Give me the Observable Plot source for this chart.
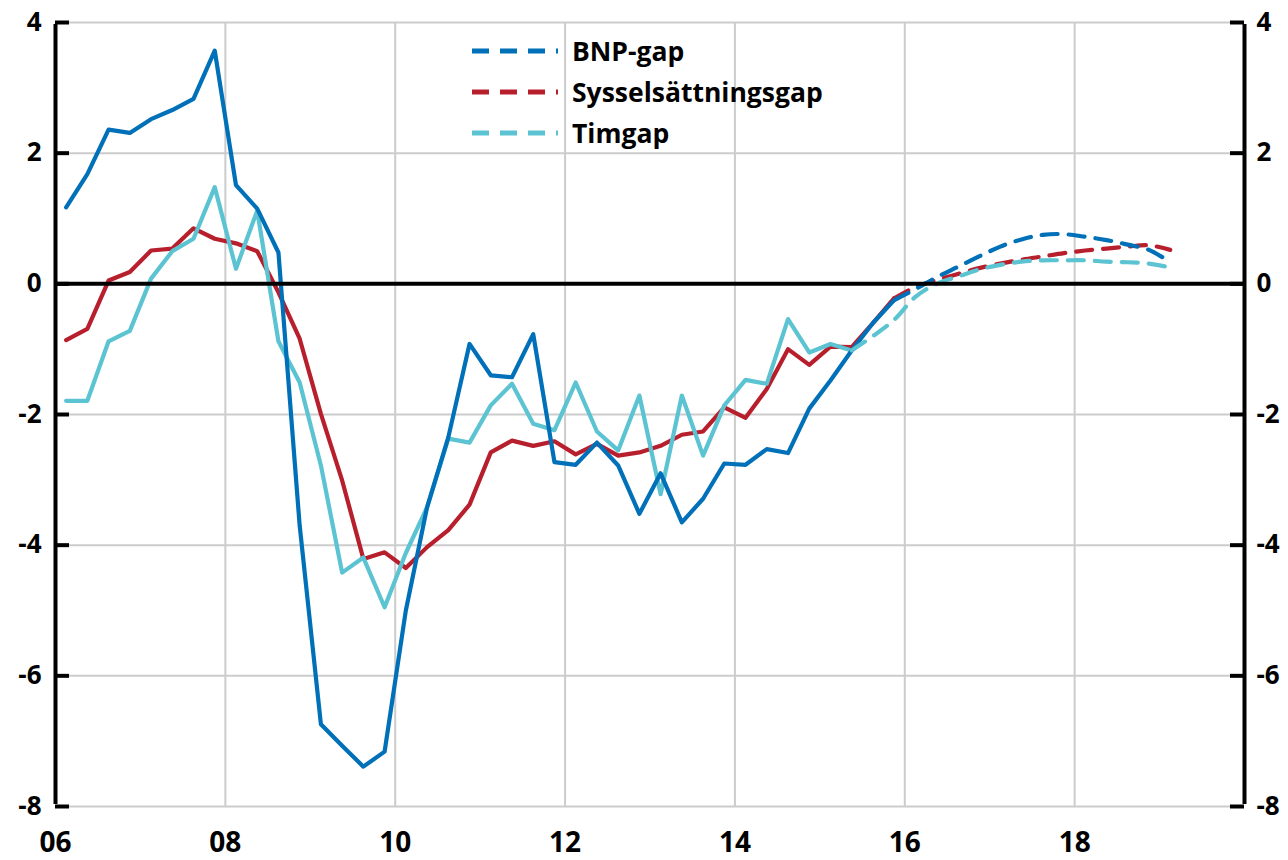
<!DOCTYPE html>
<html>
<head>
<meta charset="utf-8">
<script src="https://cdn.jsdelivr.net/npm/d3@7"></script>
<script src="https://cdn.jsdelivr.net/npm/@observablehq/plot@0.6"></script>
<style>
  html, body { margin: 0; padding: 0; background: #fff; }
  #chart { position: relative; width: 1288px; height: 860px; }
  #chart svg text { font-family: "Open Sans", Lato, sans-serif; font-weight: bold; fill: #000; }
  #legend { position: absolute; left: 0; top: 0; pointer-events: none; }
</style>
</head>
<body>
<div id="chart"></div>
<script>
// ---- Data (quarterly, percent) ----
const seriesNames = ["BNP-gap", "Sysselsättningsgap", "Timgap"];
const seriesColors = ["#0070b8", "#b81f2d", "#5bc3d1"];

// Observed: BNP-gap and Sysselsättningsgap 2006Q1–2015Q4, Timgap 2006Q1–2015Q2
const bnpObs = [1.17, 1.68, 2.36, 2.31, 2.52, 2.66, 2.83, 3.57,
  1.51, 1.15, 0.48, -3.7, -6.74, -7.07, -7.39, -7.16,
  -5.0, -3.42, -2.35, -0.92, -1.40, -1.43, -0.77, -2.73,
  -2.77, -2.43, -2.78, -3.52, -2.90, -3.65, -3.29, -2.75,
  -2.77, -2.53, -2.59, -1.91, -1.48, -1.02, -0.60, -0.25];
const syssObs = [-0.86, -0.69, 0.05, 0.18, 0.51, 0.54, 0.85, 0.69,
  0.62, 0.50, -0.13, -0.84, -1.99, -3.01, -4.21, -4.11,
  -4.35, -4.03, -3.77, -3.38, -2.58, -2.40, -2.48, -2.41,
  -2.61, -2.45, -2.63, -2.58, -2.48, -2.31, -2.26, -1.89,
  -2.05, -1.61, -1.00, -1.24, -0.96, -0.97, -0.60, -0.22];
const timObs = [-1.79, -1.79, -0.88, -0.72, 0.08, 0.50, 0.69, 1.48,
  0.23, 1.12, -0.88, -1.51, -2.78, -4.42, -4.19, -4.95,
  -4.12, -3.42, -2.37, -2.43, -1.86, -1.53, -2.14, -2.24,
  -1.51, -2.26, -2.55, -1.71, -3.22, -1.71, -2.63, -1.86,
  -1.47, -1.53, -0.54, -1.05, -0.92, -1.02];

// Forecasts: BNP & Syss from 2015Q4, Timgap from 2015Q2, all to 2019Q1
const bnpFc = [-0.25, -0.08, 0.10, 0.26, 0.42, 0.57, 0.68, 0.75, 0.76, 0.72, 0.67, 0.60, 0.52, 0.33];
const syssFc = [-0.22, -0.05, 0.06, 0.15, 0.24, 0.31, 0.37, 0.42, 0.47, 0.51, 0.54, 0.57, 0.59, 0.52];
const timFc = [-1.02, -0.80, -0.55, -0.20, 0.00, 0.11, 0.22, 0.29, 0.34, 0.36, 0.36, 0.36, 0.34, 0.33, 0.31, 0.25];

const startQuarter = "2006Q1";
const bnpFcStart = "2015Q4";
const syssFcStart = "2015Q4";
const timFcStart = "2015Q2";

const yTicks = [-8, -6, -4, -2, 0, 2, 4];
const xGridYears = [2008, 2010, 2012, 2014, 2016, 2018];
const xLabelYears = [2006, 2008, 2010, 2012, 2014, 2016, 2018];
const xLabels = ["06", "08", "10", "12", "14", "16", "18"];
const xDomain = [2006, 2020];
const yDomain = [-8, 4];

// quarter string -> mid-quarter decimal year
function qTime(q) {
  const y = +q.slice(0, 4), n = +q.slice(5);
  return y + (n - 0.5) / 4;
}
function addQ(q, k) {
  const y = +q.slice(0, 4), n = +q.slice(5) - 1 + k;
  return `${y + Math.floor(n / 4)}Q${(n % 4) + 1}`;
}
function toRows(values, start) {
  return values.map((v, i) => ({ t: qTime(addQ(start, i)), v }));
}

const obs = [toRows(bnpObs, startQuarter), toRows(syssObs, startQuarter), toRows(timObs, startQuarter)];
const fc = [toRows(bnpFc, bnpFcStart), toRows(syssFc, syssFcStart), toRows(timFc, timFcStart)];

const tickLen = 0.165; // inward tick length in years
const drawOrder = [1, 2, 0];
const FONT = "'Open Sans', Lato, sans-serif";

const plot = Plot.plot({
  width: 1288,
  height: 860,
  marginLeft: 55,
  marginRight: 44,
  marginTop: 22,
  marginBottom: 54,
  x: { domain: xDomain, axis: null },
  y: { domain: yDomain, axis: null },
  style: { fontFamily: FONT, background: "#fff", overflow: "visible" },
  marks: [
    Plot.ruleX(xGridYears, { stroke: "#cccccc", strokeWidth: 2 }),
    Plot.ruleY(yTicks, { stroke: "#cccccc", strokeWidth: 2 }),
    ...drawOrder.map(i => Plot.line(obs[i], { x: "t", y: "v", stroke: seriesColors[i], strokeWidth: 4.2 })),
    ...drawOrder.map(i => Plot.line(fc[i], { x: "t", y: "v", stroke: seriesColors[i], strokeWidth: 4.2, strokeDasharray: "16 11", curve: "catmull-rom" })),
    Plot.ruleY([0], { stroke: "#000", strokeWidth: 4 }),
    Plot.ruleX([xDomain[0], xDomain[1]], { y1: yDomain[0], y2: yDomain[1], stroke: "#000", strokeWidth: 4, insetTop: -2, insetBottom: -2 }),
    Plot.ruleY(yTicks, { x1: xDomain[0], x2: xDomain[0] + tickLen, stroke: "#000", strokeWidth: 4 }),
    Plot.ruleY(yTicks, { x1: xDomain[1] - tickLen, x2: xDomain[1], stroke: "#000", strokeWidth: 4 }),
    Plot.axisY(yTicks, { anchor: "left", tickSize: 0, tickPadding: 14, fontSize: 26, fontWeight: "bold", tickFormat: d => String(d), label: null }),
    Plot.axisY(yTicks, { anchor: "right", tickSize: 0, tickPadding: 12, fontSize: 26, fontWeight: "bold", tickFormat: d => String(d), label: null }),
    Plot.axisX(xLabelYears, { anchor: "bottom", tickSize: 0, tickPadding: 26, fontSize: 28, fontWeight: "bold", tickFormat: d => xLabels[xLabelYears.indexOf(d)], label: null })
  ]
});

const chart = document.getElementById("chart");
chart.appendChild(plot);

// Legend overlay
const legend = d3.select(chart).append("svg")
  .attr("id", "legend")
  .attr("width", 1288).attr("height", 860);
const rowY = [51, 92, 133];
seriesNames.forEach((name, i) => {
  legend.append("line")
    .attr("x1", 472).attr("x2", 558)
    .attr("y1", rowY[i]).attr("y2", rowY[i])
    .attr("stroke", seriesColors[i]).attr("stroke-width", 5)
    .attr("stroke-dasharray", "17 11");
  legend.append("text")
    .attr("x", 572).attr("y", rowY[i])
    .attr("dy", "0.36em")
    .attr("font-size", 26.5)
    .attr("font-weight", "bold")
    .attr("font-family", FONT)
    .text(name);
});
</script>
</body>
</html>
